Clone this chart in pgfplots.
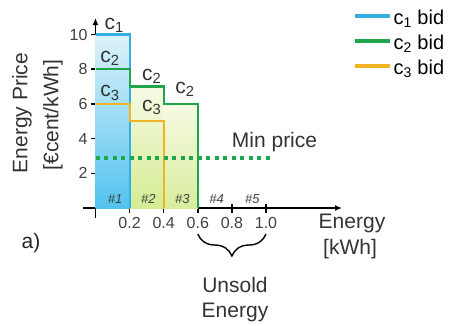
\documentclass[border=0pt]{standalone}
\usepackage{pgfplots}
\pgfplotsset{compat=1.18}
\usepackage{fontspec}
\setmainfont{Liberation Sans}
\usetikzlibrary{decorations.pathreplacing,arrows.meta}
\definecolor{cblue}{HTML}{35AEE3}
\definecolor{cgreen}{HTML}{1FA64C}
\definecolor{cyellow}{HTML}{F0B324}
\definecolor{fbluetop}{HTML}{DDF2FA}
\definecolor{fbluebot}{HTML}{52C3EF}
\definecolor{fgreentop}{HTML}{F6FAE4}
\definecolor{fgreenbot}{HTML}{D4EC92}
\begin{document}
\begin{tikzpicture}
\path[use as bounding box] (0,0) rectangle (456pt,-325pt);
\begin{axis}[
  at={(95.5pt,-208pt)}, anchor=origin,
  x=170.5pt, y=17.35pt,
  xmin=-0.073, xmax=1.446, ymin=-0.58, ymax=10.95,
  axis lines=middle,
  axis line style={line width=1.5pt, -{Latex[length=7pt,width=6pt]}},
  xtick={0.2,0.4,0.6,0.8,1.0},
  xticklabels={0.2,0.4,0.6,0.8,1.0},
  ytick={2,4,6,8,10},
  tick align=center,
  major tick length=9pt,
  tick style={line width=1.5pt, black},
  tick label style={font=\fontsize{16}{16}\selectfont, text=black!75},
  /pgf/number format/assume math mode=true,
  xticklabel style={yshift=-1pt},
  clip=false,
  legend style={at={(rel axis cs:1.04,1.05)}, anchor=north west, draw=none, fill=none,
    font=\fontsize{20}{20}\selectfont, row sep=5pt, inner sep=0pt},
  legend cell align=left,
  legend image code/.code={\draw[#1, line width=4pt] (0pt,0.35ex) -- (35pt,0.35ex);},
]
% legend
\addlegendimage{cblue}
\addlegendentry{c\textsubscript{1} bid}
\addlegendimage{cgreen}
\addlegendentry{c\textsubscript{2} bid}
\addlegendimage{cyellow}
\addlegendentry{c\textsubscript{3} bid}
% fills
\addplot[draw=none, shade, top color=fbluetop, bottom color=fbluebot, forget plot]
  coordinates {(0,0) (0,10) (0.2,10) (0.2,0)} -- cycle;
\addplot[draw=none, shade, top color=fgreentop, bottom color=fgreenbot, forget plot]
  coordinates {(0.2,0) (0.2,7) (0.4,7) (0.4,0)} -- cycle;
\addplot[draw=none, shade, top color=fgreentop, bottom color=fgreenbot!90!white, forget plot]
  coordinates {(0.4,0) (0.4,6) (0.6,6) (0.6,0)} -- cycle;
% bid lines
\addplot[cblue, line width=2.2pt, forget plot] coordinates {(0,10) (0.2,10) (0.2,0)};
\addplot[cgreen, line width=2.2pt, forget plot] coordinates {(0,8) (0.2,8) (0.2,7) (0.4,7) (0.4,6) (0.6,6) (0.6,0)};
\addplot[cyellow, line width=2.2pt, forget plot] coordinates {(0,6) (0.2,6) (0.2,5) (0.4,5) (0.4,0)};
% min price
\addplot[cgreen, line width=4pt, dash pattern=on 4pt off 4.5pt, forget plot] coordinates {(0,2.9) (1.03,2.9)};
\node[font=\fontsize{21}{21}\selectfont, text=black!80] at (axis cs:1.05,3.8) {Min price};
% bid labels
\begin{scope}[every node/.style={font=\fontsize{21}{21}\selectfont, text=black!80}]
\node at (axis cs:0.11,10.55) {c\textsubscript{1}};
\node at (axis cs:0.085,8.65) {c\textsubscript{2}};
\node at (axis cs:0.085,6.63) {c\textsubscript{3}};
\node at (axis cs:0.33,7.6) {c\textsubscript{2}};
\node at (axis cs:0.33,5.8) {c\textsubscript{3}};
\node at (axis cs:0.525,6.86) {c\textsubscript{2}};
\end{scope}
% slot labels
\begin{scope}[every node/.style={font=\fontsize{13}{13}\selectfont\itshape, text=black!75}]
\node at (axis cs:0.115,0.52) {\#1};
\node at (axis cs:0.31,0.52) {\#2};
\node at (axis cs:0.51,0.52) {\#3};
\node at (axis cs:0.71,0.52) {\#4};
\node at (axis cs:0.92,0.52) {\#5};
\end{scope}
% brace
\draw[line width=1.4pt, decorate, decoration={brace, mirror, amplitude=22pt}]
  (axis cs:0.6,-1.5) -- (axis cs:1.0,-1.5);
\end{axis}
% labels
\node[rotate=90, font=\fontsize{21}{21}\selectfont, text=black!80] at (22pt,-113pt) {Energy Price};
\node[rotate=90, font=\fontsize{21}{21}\selectfont, text=black!80] at (53pt,-115pt) {[€cent/kWh]};
\node[font=\fontsize{21}{21}\selectfont, text=black!80] at (352pt,-223pt) {Energy};
\node[font=\fontsize{21}{21}\selectfont, text=black!80] at (350pt,-249pt) {[kWh]};
\node[font=\fontsize{21}{21}\selectfont, text=black!80] at (235pt,-285pt) {Unsold};
\node[font=\fontsize{21}{21}\selectfont, text=black!80] at (235pt,-312pt) {Energy};
\node[font=\fontsize{21}{21}\selectfont, text=black!85] at (31pt,-243pt) {a)};
\end{tikzpicture}
\end{document}
